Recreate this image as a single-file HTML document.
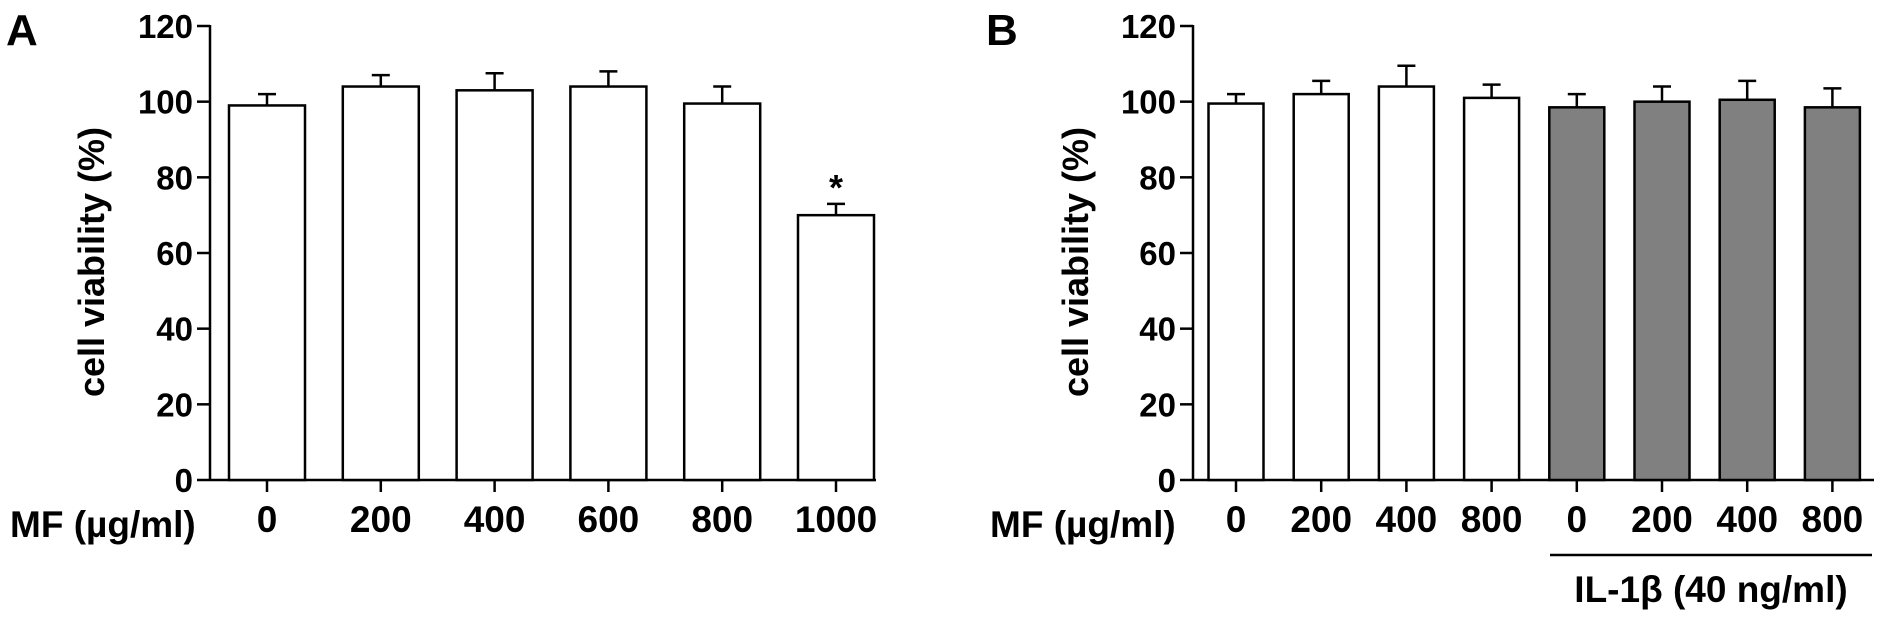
<!DOCTYPE html>
<html><head><meta charset="utf-8"><style>
html,body{margin:0;padding:0;background:#fff;}
svg{display:block;font-family:"Liberation Sans",Arial,sans-serif;font-weight:bold;}
</style></head><body>
<svg id="chart" width="1890" height="623" viewBox="0 0 1890 623" xmlns="http://www.w3.org/2000/svg">
<text x="6" y="45" font-size="44">A</text>
<text x="986" y="45" font-size="44">B</text>
<text transform="translate(104,262) rotate(-90)" text-anchor="middle" font-size="36">cell viability (%)</text>
<text transform="translate(1088,262) rotate(-90)" text-anchor="middle" font-size="36">cell viability (%)</text>
<text x="10" y="537" font-size="37">MF (µg/ml)</text>
<text x="990" y="537" font-size="37">MF (µg/ml)</text>
<line x1="1550" y1="555" x2="1872" y2="555" stroke="#000" stroke-width="2.5"/>
<text x="1711" y="602" text-anchor="middle" font-size="37">IL-1β (40 ng/ml)</text>
<g id="pa"></g><g id="pb"></g>
</svg>
<script>
const yTicks = [0, 20, 40, 60, 80, 100, 120];
const catsA = ["0", "200", "400", "600", "800", "1000"];
const valsA = [99, 104, 103, 104, 99.5, 70];
const errA = [3, 3, 4.5, 4, 4.5, 3];
const sigA = [false, false, false, false, false, true];
const catsB = ["0", "200", "400", "800", "0", "200", "400", "800"];
const valsB = [99.5, 102, 104, 101, 98.5, 100, 100.5, 98.5];
const errB = [2.5, 3.5, 5.5, 3.5, 3.5, 4, 5, 5];
const groupB = [0, 0, 0, 0, 1, 1, 1, 1];

const NS = "http://www.w3.org/2000/svg";
function mk(parent, tag, attrs, txt) {
  const e = document.createElementNS(NS, tag);
  for (const k in attrs) e.setAttribute(k, attrs[k]);
  if (txt !== undefined) e.textContent = txt;
  parent.appendChild(e);
  return e;
}
const y0 = 480, yTop = 26;
function yScale(v) { return y0 - (v / 120) * (y0 - yTop); }

function panel(gid, axX, axEnd, firstX, step, bw, cats, vals, errs, fills, sig, prefix) {
  const g = document.getElementById(gid);
  const xs = i => firstX + i * step;
  let e = mk(g, "line", {x1: axX, y1: yTop - 1, x2: axX, y2: y0 + 1, stroke: "#000", "stroke-width": 2.5});
  
  
  e = mk(g, "line", {x1: axX, y1: y0, x2: axEnd, y2: y0, stroke: "#000", "stroke-width": 2.5});
  
  
  yTicks.forEach(t => {
    const y = yScale(t);
    let l = mk(g, "line", {x1: axX - 13, y1: y, x2: axX, y2: y, stroke: "#000", "stroke-width": 2.5});
    
    
    let tx = mk(g, "text", {x: axX - 17, y: y + 12, "text-anchor": "end", "font-size": 33}, String(t));
    
    
  });
  cats.forEach((c, i) => {
    const cx = xs(i), top = yScale(vals[i]), et = yScale(vals[i] + errs[i]);
    let ln = mk(g, "line", {x1: cx, y1: top, x2: cx, y2: et, stroke: "#000", "stroke-width": 2.5});
    
    
    let cap = mk(g, "line", {x1: cx - 9, y1: et, x2: cx + 9, y2: et, stroke: "#000", "stroke-width": 2.5});
    
    
    let r = mk(g, "rect", {x: cx - bw / 2, y: top, width: bw, height: y0 - top, fill: fills[i], stroke: "#000", "stroke-width": 2.5});
    
    
    let tk = mk(g, "line", {x1: cx, y1: y0, x2: cx, y2: y0 + 12, stroke: "#000", "stroke-width": 2.5});
    
    
    let lb = mk(g, "text", {x: cx, y: 532, "text-anchor": "middle", "font-size": 37}, c);
    
    
    if (sig && sig[i]) {
      let s = mk(g, "text", {x: cx, y: et - 4, "text-anchor": "middle", "font-size": 36}, "*");
      
      
    }
  });
}
panel("pa", 210, 876, 267, 113.8, 76, catsA, valsA, errA, catsA.map(() => "#fff"), sigA, "panel-a");
panel("pb", 1193, 1874, 1236, 85.2, 55, catsB, valsB, errB, groupB.map(gp => gp ? "#808080" : "#fff"), null, "panel-b");
</script>
</body></html>
